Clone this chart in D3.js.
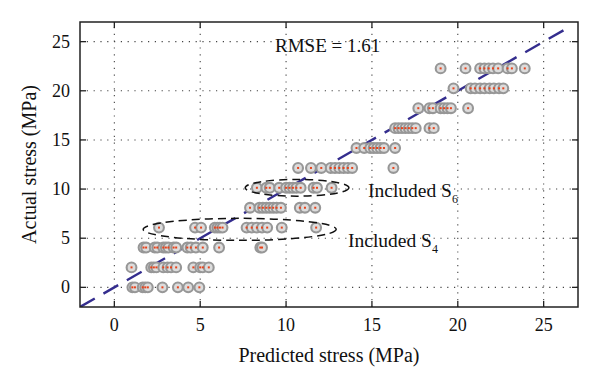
<!DOCTYPE html>
<html>
<head>
<meta charset="utf-8">
<script src="https://cdn.jsdelivr.net/npm/d3@7"></script>
<style>
  body { margin: 0; background: #fff; }
  text { font-family: "Liberation Serif", "DejaVu Serif", serif; fill: #111; }
</style>
</head>
<body>
<div id="chart"></div>
<script>
// actual stress levels (rows of the scatter)
const actualLevels = [0, 2.03, 4.05, 6.08, 8.1, 10.13, 12.15, 14.18, 16.2, 18.23, 20.25, 22.28];

// predicted stress for every sample, one array per actual level
const predAt0  = [1.05, 1.2, 1.65, 1.8, 1.95, 2.8, 3.7, 4.3, 4.95];
const predAt2  = [1.0, 2.15, 2.3, 2.45, 2.85, 3.1, 3.3, 3.6, 4.6, 5.0, 5.15, 5.5];
const predAt4  = [1.7, 1.85, 2.35, 2.5, 2.85, 3.0, 3.15, 3.45, 3.6, 4.25, 4.45, 4.75, 5.15, 6.1, 8.5, 8.6];
const predAt6  = [2.6, 4.7, 5.05, 5.85, 6.0, 6.15, 6.3, 7.7, 8.0, 8.3, 8.6, 8.9, 9.75, 11.75];
const predAt8  = [7.9, 8.45, 8.65, 8.85, 9.05, 9.25, 9.45, 9.7, 10.8, 11.1, 11.7];
const predAt10 = [8.3, 8.85, 9.05, 9.6, 10.0, 10.2, 10.4, 10.6, 10.85, 11.6, 11.8, 12.65];
const predAt12 = [10.7, 11.45, 12.05, 12.6, 12.85, 13.1, 13.35, 13.6, 13.85, 16.25];
const predAt14 = [14.1, 14.55, 14.9, 15.1, 15.3, 15.5, 15.7, 16.35];
const predAt16 = [16.35, 16.55, 16.75, 16.95, 17.15, 17.35, 17.55, 18.35, 18.6];
const predAt18 = [17.7, 18.35, 18.55, 19.0, 19.2, 19.4, 19.6, 20.6];
const predAt20 = [19.75, 20.75, 21.0, 21.3, 21.55, 21.85, 22.1, 22.4, 22.65];
const predAt22 = [19.0, 20.45, 21.3, 21.55, 21.8, 22.05, 22.35, 22.9, 23.15, 23.9];

const predictedRows = [predAt0, predAt2, predAt4, predAt6, predAt8, predAt10,
                       predAt12, predAt14, predAt16, predAt18, predAt20, predAt22];

const xTicks = [0, 5, 10, 15, 20, 25];
const yTicks = [0, 5, 10, 15, 20, 25];
const domain = [-2, 27];

// annotation ellipses: [cx, cy, rx, ry] in data units
const ellipseS6 = [10.64, 10.13, 3.02, 0.85];
const ellipseS4 = [7.3, 5.9, 5.62, 1.12];

const width = 600, height = 386;
const margin = {left: 80, right: 22, top: 22, bottom: 79};

const svg = d3.select("#chart").append("svg")
    .attr("width", width)
    .attr("height", height);

const x = d3.scaleLinear().domain(domain).range([margin.left, width - margin.right]);
const y = d3.scaleLinear().domain(domain).range([height - margin.bottom, margin.top]);

const x0 = margin.left, x1 = width - margin.right;
const y0 = height - margin.bottom, y1 = margin.top;

// dotted grid
const grid = svg.append("g").attr("class", "grid");
grid.selectAll(".gx").data(xTicks).enter().append("line")
    .attr("x1", d => x(d)).attr("x2", d => x(d))
    .attr("y1", y0).attr("y2", y1);
grid.selectAll(".gy").data(yTicks).enter().append("line")
    .attr("y1", d => y(d)).attr("y2", d => y(d))
    .attr("x1", x0).attr("x2", x1);
grid.selectAll("line")
    .attr("stroke", "#444")
    .attr("stroke-width", 1.1)
    .attr("stroke-dasharray", "1.2,5.6");

// clip for marks
svg.append("clipPath").attr("id", "plotclip")
  .append("rect")
    .attr("x", x0).attr("y", y1)
    .attr("width", x1 - x0).attr("height", y0 - y1);

const plot = svg.append("g").attr("clip-path", "url(#plotclip)");

// y = x reference line
plot.append("line")
    .attr("x1", x(-2)).attr("y1", y(-2))
    .attr("x2", x(26.5)).attr("y2", y(26.5))
    .attr("stroke", "#342d8e")
    .attr("stroke-width", 2.4)
    .attr("stroke-dasharray", "17,10");

// flatten samples
let samples = [];
predictedRows.forEach((row, i) => {
    row.forEach(p => samples.push({pred: p, actual: actualLevels[i]}));
});

plot.selectAll(".pt").data(samples).enter().append("circle")
    .attr("class", "pt")
    .attr("cx", d => x(d.pred))
    .attr("cy", d => y(d.actual))
    .attr("r", 4.9)
    .attr("fill", "#dcdcdc")
    .attr("stroke", "#979797")
    .attr("stroke-width", 2.1);

plot.selectAll(".dot").data(samples).enter().append("rect")
    .attr("class", "dot")
    .attr("x", d => x(d.pred) - 1)
    .attr("y", d => y(d.actual) - 1)
    .attr("width", 2).attr("height", 2)
    .attr("fill", "#e8421a");

// dashed ellipses
[ellipseS6, ellipseS4].forEach(e => {
    plot.append("ellipse")
        .attr("cx", x(e[0]))
        .attr("cy", y(e[1]))
        .attr("rx", x(e[0] + e[2]) - x(e[0]))
        .attr("ry", y(e[1]) - y(e[1] + e[3]))
        .attr("fill", "none")
        .attr("stroke", "#111")
        .attr("stroke-width", 1.5)
        .attr("stroke-dasharray", "8,5");
});

// frame with inward ticks
const frame = svg.append("g");
frame.append("rect")
    .attr("x", x0).attr("y", y1)
    .attr("width", x1 - x0).attr("height", y0 - y1)
    .attr("fill", "none")
    .attr("stroke", "#222")
    .attr("stroke-width", 1.5);

const tickLen = 6;
xTicks.forEach(t => {
    frame.append("line").attr("x1", x(t)).attr("x2", x(t)).attr("y1", y0).attr("y2", y0 - tickLen);
    frame.append("line").attr("x1", x(t)).attr("x2", x(t)).attr("y1", y1).attr("y2", y1 + tickLen);
});
yTicks.forEach(t => {
    frame.append("line").attr("y1", y(t)).attr("y2", y(t)).attr("x1", x0).attr("x2", x0 + tickLen);
    frame.append("line").attr("y1", y(t)).attr("y2", y(t)).attr("x1", x1).attr("x2", x1 - tickLen);
});
frame.selectAll("line").attr("stroke", "#222").attr("stroke-width", 1.3);

// tick labels
svg.selectAll(".xl").data(xTicks).enter().append("text")
    .attr("x", d => x(d))
    .attr("y", 331)
    .attr("text-anchor", "middle")
    .attr("font-size", 18)
    .text(d => d);

svg.selectAll(".yl").data(yTicks).enter().append("text")
    .attr("x", x0 - 10)
    .attr("y", d => y(d) + 6)
    .attr("text-anchor", "end")
    .attr("font-size", 18)
    .text(d => d);

// axis titles
svg.append("text")
    .attr("x", (x0 + x1) / 2)
    .attr("y", 362)
    .attr("text-anchor", "middle")
    .attr("font-size", 20)
    .text("Predicted stress (MPa)");

svg.append("text")
    .attr("transform", `translate(36,${(y0 + y1) / 2}) rotate(-90)`)
    .attr("text-anchor", "middle")
    .attr("font-size", 20)
    .text("Actual stress (MPa)");

// annotations
svg.append("text")
    .attr("x", 275).attr("y", 52)
    .attr("font-size", 19)
    .text("RMSE = 1.61");

const s6 = svg.append("text").attr("x", 368).attr("y", 197).attr("font-size", 19.5);
s6.append("tspan").text("Included S");
s6.append("tspan").attr("font-size", 12).attr("dy", 6).text("6");

const s4 = svg.append("text").attr("x", 348).attr("y", 247).attr("font-size", 19.5);
s4.append("tspan").text("Included S");
s4.append("tspan").attr("font-size", 12).attr("dy", 6).text("4");
</script>
</body>
</html>
